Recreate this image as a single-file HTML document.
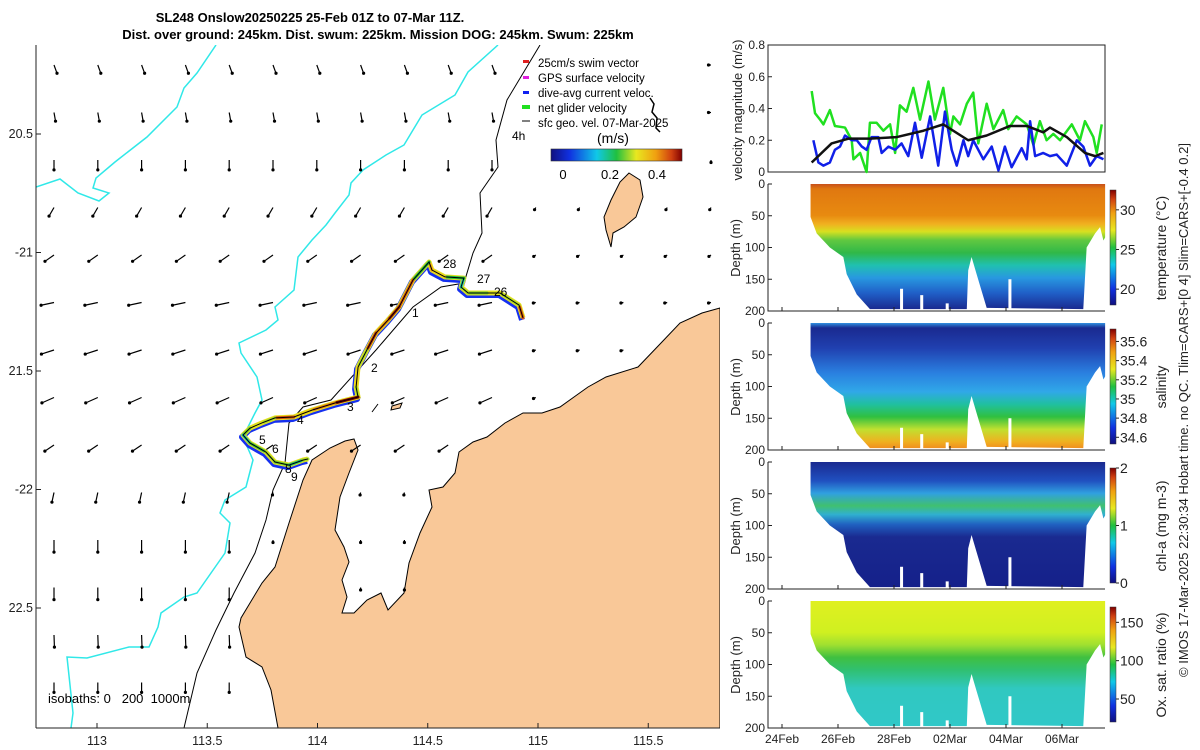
<!DOCTYPE html>
<html><head><meta charset="utf-8"><style>
html,body{margin:0;padding:0;background:#fff;}
svg{display:block;font-family:"Liberation Sans",sans-serif;}
</style></head><body>
<svg id="fig" width="1200" height="750" viewBox="0 0 1200 750" xmlns="http://www.w3.org/2000/svg">
<defs>
  <linearGradient id="jet" x1="0" x2="1" y1="0" y2="0">
    <stop offset="0" stop-color="#10107f"/><stop offset="0.14" stop-color="#1030e0"/><stop offset="0.35" stop-color="#10c8e8"/>
    <stop offset="0.5" stop-color="#20c040"/><stop offset="0.65" stop-color="#e8e820"/><stop offset="0.8" stop-color="#f0a010"/>
    <stop offset="0.92" stop-color="#d04010"/><stop offset="1" stop-color="#800000"/>
  </linearGradient>
  <linearGradient id="jetv" x1="0" x2="0" y1="1" y2="0">
    <stop offset="0" stop-color="#10107f"/><stop offset="0.14" stop-color="#1030e0"/><stop offset="0.35" stop-color="#10c8e8"/>
    <stop offset="0.5" stop-color="#20c040"/><stop offset="0.65" stop-color="#e8e820"/><stop offset="0.8" stop-color="#f0a010"/>
    <stop offset="0.92" stop-color="#d04010"/><stop offset="1" stop-color="#800000"/>
  </linearGradient>
  <linearGradient id="gT" x1="0" x2="0" y1="0" y2="1">
    <stop offset="0" stop-color="#c8501a"/><stop offset="0.04" stop-color="#e07810"/><stop offset="0.25" stop-color="#e88a10"/>
    <stop offset="0.32" stop-color="#f0b020"/><stop offset="0.38" stop-color="#d8e020"/><stop offset="0.45" stop-color="#60c840"/>
    <stop offset="0.55" stop-color="#30b848"/><stop offset="0.65" stop-color="#20c0b0"/><stop offset="0.75" stop-color="#2898e0"/>
    <stop offset="0.87" stop-color="#2060c8"/><stop offset="1" stop-color="#1a2a90"/>
  </linearGradient>
  <linearGradient id="gS" x1="0" x2="0" y1="0" y2="1">
    <stop offset="0" stop-color="#3090e0"/><stop offset="0.04" stop-color="#1a2a90"/><stop offset="0.2" stop-color="#2040b0"/>
    <stop offset="0.4" stop-color="#2a80e0"/><stop offset="0.55" stop-color="#30a8e8"/><stop offset="0.65" stop-color="#20c0a0"/>
    <stop offset="0.75" stop-color="#30c040"/><stop offset="0.85" stop-color="#c0e030"/><stop offset="0.95" stop-color="#f0b020"/>
    <stop offset="1" stop-color="#f09020"/>
  </linearGradient>
  <linearGradient id="gC" x1="0" x2="0" y1="0" y2="1">
    <stop offset="0" stop-color="#1a2a90"/><stop offset="0.15" stop-color="#2050c0"/><stop offset="0.25" stop-color="#30a0e0"/>
    <stop offset="0.35" stop-color="#40c070"/><stop offset="0.42" stop-color="#30b0d0"/><stop offset="0.5" stop-color="#2060c0"/>
    <stop offset="0.6" stop-color="#1a2a90"/><stop offset="1" stop-color="#15208a"/>
  </linearGradient>
  <linearGradient id="gO" x1="0" x2="0" y1="0" y2="1">
    <stop offset="0" stop-color="#e0f020"/><stop offset="0.25" stop-color="#d0f020"/><stop offset="0.35" stop-color="#a0e030"/>
    <stop offset="0.45" stop-color="#40c040"/><stop offset="0.55" stop-color="#30c070"/><stop offset="0.7" stop-color="#30c8c0"/>
    <stop offset="1" stop-color="#30c8c8"/>
  </linearGradient>
  <clipPath id="mapclip"><rect x="36" y="45" width="684" height="683"/></clipPath>
</defs>

<text x="310" y="22" text-anchor="middle" font-size="13" font-weight="bold">SL248 Onslow20250225 25-Feb 01Z to 07-Mar 11Z.</text>
<text x="378" y="39" text-anchor="middle" font-size="13" font-weight="bold">Dist. over ground: 245km. Dist. swum: 225km. Mission DOG: 245km. Swum: 225km</text>

<g id="map" clip-path="url(#mapclip)">
  <polygon id="land" fill="#f9c898" stroke="#000" stroke-width="1"
   points="720,308 702,313 680,323 661,343 638,367 606,377 588,387 574,397 560,407 542,413 523,413 505,423 487,437 473,442 459,452 455,473 443,487 429,490 432,507 420,533 409,563 404,593 388,610 381,593 367,600 354,613 342,613 347,597 342,580 349,562 344,547 335,530 340,497 349,473 358,450 354,439 345,441 330,448 312,460 303,480 289,523 275,567 262,583 241,618 239,627 246,657 262,667 271,690 278,728 720,728"/>
  <polygon fill="#f9c898" stroke="#000" stroke-width="1"
   points="629,173 640,180 643,197 636,217 624,227 613,233 611,247 606,230 604,217 611,200 620,182"/>
  <path d="M650,98 l4,6 -2,8 5,6 -1,10 4,4" fill="none" stroke="#000" stroke-width="1.5"/>
  <path d="M392,406 l10,-3 -2,5 -9,2z M372,412 l6,-8" fill="#f9c898" stroke="#000" stroke-width="1"/>
  <polyline fill="none" stroke="#30e8e8" stroke-width="1.5"
   points="36,187 60,179 78,193 99,201 109,193 93,188 96,178 115,162 147,137 177,107 184,88 197,73 216,45"/>
  <polyline fill="none" stroke="#30e8e8" stroke-width="1.5"
   points="498,45 468,72 455,95 422,115 404,145 386,155 363,170 351,183 349,195 335,213 326,225 312,240 298,257 294,290 275,307 278,320 266,330 239,343 241,353 257,377 262,400 255,413 243,437 253,460 246,487 225,500 220,513 230,523 225,553 197,593 184,597 161,613 158,627 149,647 129,647 87,658 67,657 73,713 71,728"/>
  <polyline fill="none" stroke="#000" stroke-width="1"
   points="540,45 507,100 496,140 498,167 480,193 482,233 473,253 464,283 441,287 413,307 376,350 331,400 303,407 289,423 285,463 273,490 266,520 255,553 234,593 216,630 197,673 184,728"/>
  <g id="arrows"></g>
  <g id="track"></g>
  <g id="daylabels" font-size="12">
    <text x="412" y="317">1</text>
    <text x="371" y="372">2</text>
    <text x="347" y="411">3</text>
    <text x="297" y="424">4</text>
    <text x="259" y="444">5</text>
    <text x="272" y="453">6</text>
    <text x="285" y="473">8</text>
    <text x="291" y="481">9</text>
    <text x="443" y="268">28</text>
    <text x="477" y="283">27</text>
    <text x="494" y="296">26</text>
    <text x="512" y="140">4h</text>
  </g>
  <g font-size="11.5">
    <rect x="523" y="60" width="6" height="3" fill="#e02020"/>
    <text x="538" y="67">25cm/s swim vector</text>
    <rect x="523" y="76" width="6" height="3" fill="#e020e0"/>
    <text x="538" y="82">GPS surface velocity</text>
    <rect x="523" y="91" width="6" height="3" fill="#1020f0"/>
    <text x="538" y="97">dive-avg current veloc.</text>
    <rect x="522" y="105" width="8" height="4" fill="#20e020"/>
    <text x="538" y="112">net glider velocity</text>
    <line x1="522" y1="121" x2="530" y2="121" stroke="#000"/>
    <text x="538" y="127">sfc geo. vel. 07-Mar-2025</text>
    <text x="597" y="143" font-size="14">(m/s)</text>
    <rect x="551" y="149" width="131" height="12" fill="url(#jet)" stroke="#333" stroke-width="0.6"/>
    <text x="563" y="179" text-anchor="middle" font-size="13">0</text>
    <text x="610" y="179" text-anchor="middle" font-size="13">0.2</text>
    <text x="657" y="179" text-anchor="middle" font-size="13">0.4</text>
  </g>
  <text x="48" y="703" font-size="13" style="white-space:pre">isobaths: 0   200  1000m</text>
</g>
<line x1="36" y1="45" x2="36" y2="728" stroke="#222"/>
<line x1="36" y1="728" x2="720" y2="728" stroke="#222"/>
<g id="mapticks" font-size="12.5" fill="#222"></g>

<g id="right"></g>
<text transform="translate(1188,410) rotate(-90)" text-anchor="middle" font-size="13" fill="#222">© IMOS 17-Mar-2025 22:30:34 Hobart time. no QC. Tlim=CARS+[0 4] Slim=CARS+[-0.4 0.2]</text>
</svg>

<script>
// ---------- chart data ----------
const greenDays=[1.06,1.18,1.36,1.48,1.71,1.89,2.25,2.49,2.55,2.79,3.02,3.14,3.38,3.62,3.86,4.04,4.21,4.45,4.69,4.93,5.23,5.46,5.76,6.0,6.12,6.36,6.6,6.83,7.01,7.31,7.55,7.9,8.08,8.38,8.74,8.98,9.21,9.45,9.69,9.93,10.35,10.64,10.82,11.12,11.24,11.42];
const greenVals=[0.51,0.37,0.33,0.30,0.39,0.29,0.28,0.20,0.08,0.12,0.0,0.31,0.31,0.26,0.30,0.12,0.42,0.38,0.53,0.33,0.57,0.33,0.53,0.24,0.35,0.30,0.43,0.50,0.18,0.43,0.27,0.39,0.27,0.35,0.30,0.17,0.32,0.20,0.24,0.20,0.30,0.20,0.32,0.22,0.12,0.30];
const blueDays=[1.12,1.30,1.48,1.71,1.89,2.07,2.25,2.49,2.67,2.85,3.02,3.20,3.44,3.56,3.80,4.04,4.27,4.51,4.75,4.99,5.29,5.58,5.82,6.06,6.24,6.48,6.65,6.83,7.19,7.49,7.73,7.96,8.2,8.56,8.74,8.86,9.04,9.33,9.57,9.81,10.17,10.53,10.76,11.0,11.24,11.48];
const blueVals=[0.20,0.06,0.04,0.06,0.14,0.16,0.23,0.20,0.20,0.16,0.14,0.22,0.22,0.12,0.16,0.14,0.18,0.10,0.31,0.09,0.35,0.04,0.38,0.14,0.04,0.20,0.10,0.20,0.08,0.16,0.01,0.16,0.03,0.15,0.08,0.32,0.10,0.12,0.10,0.11,0.04,0.20,0.16,0.04,0.10,0.08];
const blackDays=[1.06,1.77,2.37,3.14,4.1,5.05,5.76,6.65,7.31,8.14,8.74,9.33,9.57,10.17,10.82,11.18,11.48];
const blackVals=[0.06,0.18,0.21,0.21,0.22,0.26,0.30,0.20,0.23,0.29,0.29,0.25,0.28,0.22,0.12,0.10,0.12];
const dateLabels=['24Feb','26Feb','28Feb','02Mar','04Mar','06Mar'];
const dateDays=[0,2,4,6,8,10];
const velTicks=[0,0.2,0.4,0.6,0.8];
const depthTicks=[0,50,100,150,200];
const profDays=[1.02,1.24,1.71,2.19,2.31,2.67,3.14,6.6,6.65,6.77,6.95,7.31,10.76,10.88,11.18,11.36,11.48,11.54];
const profDepth=[52,78,100,115,142,174,197,197,136,115,142,195,197,100,78,68,89,84];
const gapDays=[4.27,4.99,5.9,8.14];
const gapDepth=[165,175,188,150];
const tempTicks=[20,25,30], tempRange=[18,32.5];
const salTicks=[34.6,34.8,35,35.2,35.4,35.6], salRange=[34.53,35.73];
const chlTicks=[0,1,2], chlRange=[0,2];
const oxTicks=[50,100,150], oxRange=[20,170];
const trackLon=[114.932,114.914,114.828,114.769,114.683,114.651,114.664,114.578,114.519,114.506,114.433,114.370,114.320,114.265,114.224,114.184,114.175,114.184,114.079,113.975,113.893,113.807,113.748,113.694,113.662,113.694,113.766,113.807,113.871,113.934,113.957];
const trackLat=[-21.276,-21.222,-21.171,-21.171,-21.171,-21.146,-21.108,-21.103,-21.074,-21.040,-21.116,-21.230,-21.285,-21.340,-21.411,-21.483,-21.568,-21.610,-21.635,-21.665,-21.694,-21.698,-21.719,-21.741,-21.770,-21.804,-21.842,-21.884,-21.897,-21.876,-21.871];
const trackSpeed=[0.45,0.3,0.32,0.28,0.3,0.2,0.25,0.35,0.4,0.25,0.45,0.48,0.42,0.47,0.3,0.35,0.3,0.5,0.42,0.35,0.45,0.3,0.32,0.28,0.2,0.26,0.3,0.28,0.22,0.3,0.3];
const rowBearing=[160,170,180,210,235,258,252,246,236,192,180,180,178,180];
const rowSpeed=[0.16,0.16,0.18,0.18,0.2,0.24,0.24,0.24,0.2,0.18,0.22,0.22,0.22,0.18];
const lonTicks=[113,113.5,114,114.5,115,115.5], latTicks=[-20.5,-21,-21.5,-22,-22.5];
const latLabels=['20.5','-21','21.5','-22','22.5'];

const NS='http://www.w3.org/2000/svg';
function el(tag,parent){const e=document.createElementNS(NS,tag);parent.appendChild(e);return e;}
const right=document.getElementById('right');
const vx=d=>782+28*d;
const lon2x=l=>97+(l-113)*220.5, lat2y=l=>134+(-20.5-l)*237;

// ---------- map ticks ----------
const mt=document.getElementById('mapticks');
lonTicks.forEach(l=>{
  const t=el('text',mt);t.setAttribute('x',lon2x(l));t.setAttribute('y',745);t.setAttribute('text-anchor','middle');t.textContent=String(l);
  
  
  const k=el('line',mt);k.setAttribute('x1',lon2x(l));k.setAttribute('x2',lon2x(l));k.setAttribute('y1',728);k.setAttribute('y2',723);k.setAttribute('stroke','#222');
  
  
});
latTicks.forEach((l,i)=>{
  const t=el('text',mt);t.setAttribute('x',33);t.setAttribute('y',lat2y(l)+4);t.setAttribute('text-anchor','end');t.textContent=latLabels[i];
  
  
  const k=el('line',mt);k.setAttribute('x1',36);k.setAttribute('x2',41);k.setAttribute('y1',lat2y(l));k.setAttribute('y2',lat2y(l));k.setAttribute('stroke','#222');
  
  
});

// ---------- arrows ----------
const landPts=document.getElementById('land').getAttribute('points').trim().split(/\s+/).map(s=>s.split(',').map(Number));
function inLand(x,y){let c=false;for(let i=0,j=landPts.length-1;i<landPts.length;j=i++){const xi=landPts[i][0],yi=landPts[i][1],xj=landPts[j][0],yj=landPts[j][1];if(((yi>y)!==(yj>y))&&(x<(xj-xi)*(y-yi)/(yj-yi)+xi))c=!c;}return c;}
const ag=document.getElementById('arrows');
for(let r=0;r<14;r++){for(let c=0;c<16;c++){
  const x=54+43.8*c, y=65+47.5*r;
  if(inLand(x,y)) continue;
  if(x>515&&x<700&&y<185) continue;
  if(x>595&&x<650&&y>160&&y<250) continue;
  let sp=rowSpeed[r]*55;
  if((r>=9&&x>240)||(r>=2&&x>505)||(x>700&&r<2)) sp=2.5;
  const b=(r<2&&x>690)?270:rowBearing[r];
  const a=b*Math.PI/180, dx=Math.sin(a)*sp, dy=-Math.cos(a)*sp;
  const ln=el('line',ag);
  ln.setAttribute('x1',x);ln.setAttribute('y1',y);ln.setAttribute('x2',x+dx);ln.setAttribute('y2',y+dy);
  ln.setAttribute('stroke','#000');ln.setAttribute('stroke-width','1.2');
  
  
  const h=el('circle',ag);h.setAttribute('cx',x+dx);h.setAttribute('cy',y+dy);h.setAttribute('r',1.6);h.setAttribute('fill','#000');
  
  
}}

// ---------- track ----------
function jetColor(v){
  const st=[[0,[16,16,127]],[0.14,[16,48,224]],[0.35,[16,200,232]],[0.5,[32,192,64]],[0.65,[232,232,32]],[0.8,[240,160,16]],[0.92,[208,64,16]],[1,[128,0,0]]];
  const t=Math.max(0,Math.min(1,v/0.5));
  for(let i=1;i<st.length;i++){if(t<=st[i][0]){const f=(t-st[i-1][0])/(st[i][0]-st[i-1][0]);const c=st[i-1][1].map((q,k)=>Math.round(q+f*(st[i][1][k]-q)));return 'rgb('+c.join(',')+')';}}
  return 'rgb(128,0,0)';
}
const tg=document.getElementById('track');
const tpts=trackLon.map((l,i)=>[lon2x(l),lat2y(trackLat[i])]);
const ptsStr=tpts.map(p=>p.join(',')).join(' ');
const under=el('polyline',tg);under.setAttribute('points',tpts.map(p=>(p[0]-1)+','+(p[1]+2)).join(' '));
under.setAttribute('fill','none');under.setAttribute('stroke','#1530f0');under.setAttribute('stroke-width','6');under.setAttribute('stroke-linejoin','round');


const mid=el('polyline',tg);mid.setAttribute('points',ptsStr);mid.setAttribute('fill','none');mid.setAttribute('stroke','#e8e020');mid.setAttribute('stroke-width','5');mid.setAttribute('stroke-linejoin','round');


for(let i=0;i<tpts.length-1;i++){
  const s=el('line',tg);
  s.setAttribute('x1',tpts[i][0]);s.setAttribute('y1',tpts[i][1]);s.setAttribute('x2',tpts[i+1][0]);s.setAttribute('y2',tpts[i+1][1]);
  s.setAttribute('stroke',jetColor(trackSpeed[i]));s.setAttribute('stroke-width','3');s.setAttribute('stroke-linecap','round');
  
  
}
const thin=el('polyline',tg);thin.setAttribute('points',ptsStr);thin.setAttribute('fill','none');thin.setAttribute('stroke','#000');thin.setAttribute('stroke-width','1');



// ---------- velocity panel ----------
const vTop=45,vBot=172;
const vy=v=>vBot-v/0.8*127;
const vf=el('rect',right);vf.setAttribute('x',768);vf.setAttribute('y',vTop);vf.setAttribute('width',337);vf.setAttribute('height',127);vf.setAttribute('fill','none');vf.setAttribute('stroke','#222');


function series(days,vals,color,w,name){
  const p=el('polyline',right);p.setAttribute('points',days.map((d,i)=>vx(d)+','+vy(vals[i])).join(' '));
  p.setAttribute('fill','none');p.setAttribute('stroke',color);p.setAttribute('stroke-width',w);p.setAttribute('stroke-linejoin','round');
  
  
}
series(greenDays,greenVals,'#20e020',2.5,'net-glider-velocity-line');
series(blueDays,blueVals,'#1020e8',2.5,'dive-avg-current-line');
series(blackDays,blackVals,'#111',2.5,'geo-velocity-line');
velTicks.forEach(v=>{
  const t=el('text',right);t.setAttribute('x',765);t.setAttribute('y',vy(v)+4);t.setAttribute('text-anchor','end');t.setAttribute('font-size','12');t.setAttribute('fill','#222');t.textContent=String(v);
  
  
  const k=el('line',right);k.setAttribute('x1',768);k.setAttribute('x2',772);k.setAttribute('y1',vy(v));k.setAttribute('y2',vy(v));k.setAttribute('stroke','#222');
  
  
});
const vl=el('text',right);vl.setAttribute('transform','translate(742,110) rotate(-90)');vl.setAttribute('text-anchor','middle');vl.setAttribute('font-size','13');vl.setAttribute('fill','#222');vl.textContent='velocity magnitude (m/s)';



// ---------- section panels ----------
const panels=[
 {top:184,grad:'gT',ticks:tempTicks,range:tempRange,label:'temperature (°C)',name:'temperature'},
 {top:323,grad:'gS',ticks:salTicks,range:salRange,label:'salinity',name:'salinity'},
 {top:462,grad:'gC',ticks:chlTicks,range:chlRange,label:'chl-a (mg m-3)',name:'chlorophyll'},
 {top:601,grad:'gO',ticks:oxTicks,range:oxRange,label:'Ox. sat. ratio (%)',name:'oxygen'}];
panels.forEach((P)=>{
  const sy=d=>P.top+d/200*127;
  const pts=[[vx(profDays[0]),sy(0)],[vx(profDays[profDays.length-1]),sy(0)]];
  for(let i=profDays.length-1;i>=0;i--) pts.push([vx(profDays[i]),sy(profDepth[i])]);
  const poly=el('polygon',right);poly.setAttribute('points',pts.map(p=>p.join(',')).join(' '));
  poly.setAttribute('fill','url(#'+P.grad+')');
  
  
  gapDays.forEach((g,i)=>{
    const r=el('rect',right);r.setAttribute('x',vx(g)-1.5);r.setAttribute('width',3);r.setAttribute('y',sy(gapDepth[i]));r.setAttribute('height',sy(200)-sy(gapDepth[i])+1);r.setAttribute('fill','#fff');
    
    
  });
  const ax=el('polyline',right);ax.setAttribute('points','768,'+P.top+' 768,'+(P.top+127)+' 1105,'+(P.top+127));ax.setAttribute('fill','none');ax.setAttribute('stroke','#222');
  
  
  depthTicks.forEach(d=>{
    const t=el('text',right);t.setAttribute('x',765);t.setAttribute('y',sy(d)+4);t.setAttribute('text-anchor','end');t.setAttribute('font-size','12');t.setAttribute('fill','#222');t.textContent=String(d);
    
    
    const k=el('line',right);k.setAttribute('x1',768);k.setAttribute('x2',772);k.setAttribute('y1',sy(d));k.setAttribute('y2',sy(d));k.setAttribute('stroke','#222');
    
    
  });
  const dl=el('text',right);dl.setAttribute('transform','translate(740,'+(P.top+64)+') rotate(-90)');dl.setAttribute('text-anchor','middle');dl.setAttribute('font-size','13');dl.setAttribute('fill','#222');dl.textContent='Depth (m)';
  
  
  const cbTop=P.top+6, cbH=115;
  const cb=el('rect',right);cb.setAttribute('x',1110);cb.setAttribute('y',cbTop);cb.setAttribute('width',6);cb.setAttribute('height',cbH);cb.setAttribute('fill','url(#jetv)');cb.setAttribute('stroke','#333');cb.setAttribute('stroke-width','0.5');
  
  
  P.ticks.forEach(v=>{
    const y=cbTop+cbH-(v-P.range[0])/(P.range[1]-P.range[0])*cbH;
    const t=el('text',right);t.setAttribute('x',1120);t.setAttribute('y',y+5);t.setAttribute('font-size','14');t.setAttribute('fill','#222');t.textContent=String(v);
    
    
    const k=el('line',right);k.setAttribute('x1',1116);k.setAttribute('x2',1119);k.setAttribute('y1',y);k.setAttribute('y2',y);k.setAttribute('stroke','#222');
    
    
  });
  const cl=el('text',right);cl.setAttribute('transform','translate(1166,'+(P.top+64)+') rotate(-90)');cl.setAttribute('text-anchor','middle');cl.setAttribute('font-size','14');cl.setAttribute('fill','#222');cl.textContent=P.label;
  
  
  dateDays.forEach(d=>{
    const k=el('line',right);k.setAttribute('x1',vx(d));k.setAttribute('x2',vx(d));k.setAttribute('y1',P.top+127);k.setAttribute('y2',P.top+123);k.setAttribute('stroke','#222');
    
    
  });
});
dateDays.forEach((d,i)=>{
  const t=el('text',right);t.setAttribute('x',vx(d));t.setAttribute('y',743);t.setAttribute('text-anchor','middle');t.setAttribute('font-size','12');t.setAttribute('fill','#222');t.textContent=dateLabels[i];
  
  
});
</script>
</body></html>
